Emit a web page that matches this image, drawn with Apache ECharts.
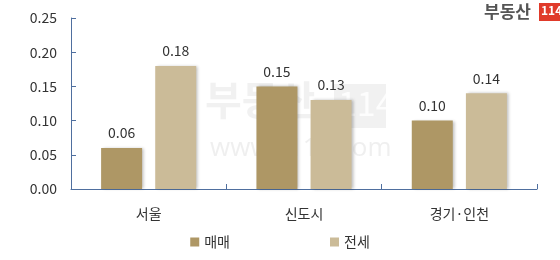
<!DOCTYPE html>
<html><head><meta charset="utf-8">
<script src="https://cdn.jsdelivr.net/npm/echarts@6/dist/echarts.min.js"></script>
<style>html,body{margin:0;padding:0;background:#fff}#c{width:560px;height:260px}</style>
</head><body><div id="c"></div>
<script>
var categories = ['서울', '신도시', '경기·인천'];
var maemae = [0.06, 0.15, 0.10];
var jeonse = [0.18, 0.13, 0.14];
var yTicks = [0, 0.05, 0.10, 0.15, 0.20, 0.25];

var font = '"Noto Sans CJK KR", "Noto Sans", sans-serif';
var chart = echarts.init(document.getElementById('c'), null, {renderer: 'canvas'});
var lbl = {show: true, position: 'top', distance: 8, color: '#333', fontSize: 14, fontFamily: font,
  formatter: function (p) { return p.value.toFixed(2); }};
chart.setOption({
  animation: false,
  textStyle: {fontFamily: font},
  grid: {left: 71, right: 23, top: 18, bottom: 71},
  graphic: [
    {type: 'text', left: 205, top: 80, z: 0, style: {text: '부동산', fontSize: 40, fontWeight: 'bold', fill: 'rgba(190,190,190,0.22)', fontFamily: font}},
    {type: 'rect', left: 334, top: 84, z: 0, shape: {width: 52, height: 44}, style: {fill: 'rgba(190,190,190,0.22)'}},
    {type: 'text', left: 338, top: 86, z: 0, style: {text: '114', fontSize: 34, fill: 'rgba(255,255,255,0.85)', fontFamily: font}},
    {type: 'text', left: 210, top: 136, z: 0, style: {text: 'www.r114.com', fontSize: 26, fill: 'rgba(190,190,190,0.25)', fontFamily: '"Open Sans", sans-serif'}},
    {type: 'text', left: 484, top: 3, style: {text: '부동산', fontSize: 17, fontWeight: 'bold', fill: '#555', fontFamily: font}},
    {type: 'rect', left: 539, top: 3, shape: {width: 21, height: 18}, style: {fill: '#e03a2a'}},
    {type: 'text', left: 541, top: 4, style: {text: '114', fontSize: 12, fontWeight: 'bold', fill: '#fff', fontFamily: font}}
  ],
  legend: {
    bottom: 6, left: 'center', itemGap: 100, itemWidth: 9, itemHeight: 9, icon: 'rect',
    textStyle: {fontSize: 14, color: '#333', fontFamily: font},
    data: ['매매', '전세']
  },
  xAxis: {
    type: 'category', data: categories,
    axisLine: {lineStyle: {color: '#4f6f9f', width: 1}},
    axisTick: {show: true, inside: true, length: 5, lineStyle: {color: '#4f6f9f'}},
    axisLabel: {fontSize: 14, color: '#333', margin: 18, fontFamily: font}
  },
  yAxis: {
    type: 'value', min: 0, max: 0.25, interval: 0.05,
    axisLine: {show: true, lineStyle: {color: '#4f6f9f', width: 1}},
    axisTick: {show: true, inside: true, length: 5, lineStyle: {color: '#4f6f9f'}},
    splitLine: {show: false},
    axisLabel: {fontSize: 14, color: '#333', margin: 14, fontFamily: font,
      formatter: function (v) { return v.toFixed(2); }}
  },
  series: [
    {name: '매매', type: 'bar', data: maemae, barWidth: 41, barGap: '32%', label: lbl,
      itemStyle: {color: '#ae9765', shadowColor: 'rgba(0,0,0,0.25)', shadowBlur: 3, shadowOffsetX: 2, shadowOffsetY: 0}},
    {name: '전세', type: 'bar', data: jeonse, barWidth: 41, barGap: '32%', label: lbl,
      itemStyle: {color: '#cbbb98', shadowColor: 'rgba(0,0,0,0.25)', shadowBlur: 3, shadowOffsetX: 2, shadowOffsetY: 0}}
  ]
});
</script></body></html>
